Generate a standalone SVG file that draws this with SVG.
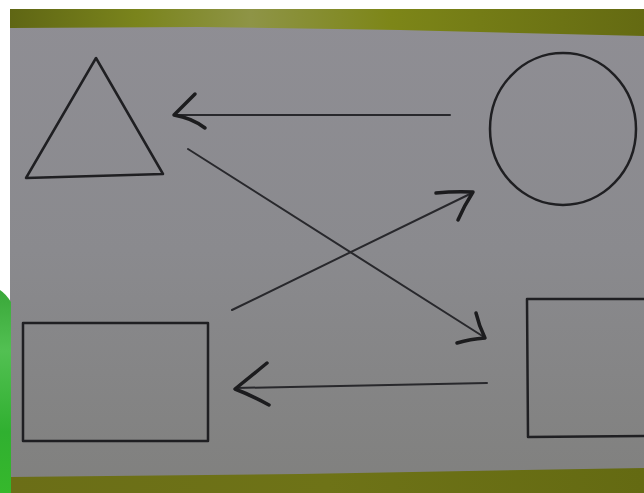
<svg xmlns="http://www.w3.org/2000/svg" width="644" height="493" viewBox="0 0 644 493">
<defs>
<linearGradient id="paper" x1="0" y1="0" x2="0" y2="1">
<stop offset="0" stop-color="#8f8e94"/>
<stop offset="0.5" stop-color="#8a8a8e"/>
<stop offset="1" stop-color="#80807e"/>
</linearGradient>
<linearGradient id="topband" x1="0" y1="0" x2="1" y2="0">
<stop offset="0" stop-color="#5f6614"/>
<stop offset="0.2" stop-color="#7a841c"/>
<stop offset="0.38" stop-color="#8e9446"/>
<stop offset="0.6" stop-color="#7d8618"/>
<stop offset="1" stop-color="#646a12"/>
</linearGradient>
<linearGradient id="botband" x1="0" y1="0" x2="1" y2="0">
<stop offset="0" stop-color="#6b6e17"/>
<stop offset="0.5" stop-color="#6e7317"/>
<stop offset="1" stop-color="#646a12"/>
</linearGradient>
<linearGradient id="green" x1="0" y1="0" x2="0" y2="1">
<stop offset="0" stop-color="#3aa83a"/>
<stop offset="0.3" stop-color="#52c052"/>
<stop offset="0.7" stop-color="#30b030"/>
<stop offset="1" stop-color="#36b82c"/>
</linearGradient>
</defs>
<style>
.shape{fill:none;stroke:#1f1f22;stroke-width:2.5;stroke-linejoin:round}
.line{fill:none;stroke:#28282c;stroke-width:2;stroke-linecap:round}
.barb{fill:none;stroke:#1c1c1e;stroke-width:3.5;stroke-linecap:round;stroke-linejoin:round}
</style>
<rect x="0" y="0" width="644" height="493" fill="#ffffff"/>
<rect x="10" y="9" width="634" height="484" fill="url(#paper)"/>
<path d="M10 9 L644 9 L644 36 L400 30 L200 27 L10 28 Z" fill="url(#topband)"/>
<path d="M10 477 L300 474 L644 468 L644 493 L10 493 Z" fill="url(#botband)"/>
<path d="M0 290 Q6 294 11 302 L11 493 L0 493 Z" fill="url(#green)"/>
<g id="triangle"><path class="shape" d="M96 58 L26 178 L163 174 Z"/></g>
<g id="circle"><ellipse class="shape" cx="563" cy="129" rx="73" ry="76" stroke-width="3"/></g>
<g id="rect-left"><rect class="shape" x="23" y="323" width="185" height="118"/></g>
<g id="rect-right"><path class="shape" d="M646 299 L527 299 L528 437 L646 436"/></g>
<g id="connectors">
<path class="line" d="M450 115 L174 115"/>
<path class="barb" d="M195 94 Q183 106 174 115 Q192 118 205 128"/>
<path class="line" d="M188 149 L484 337"/>
<path class="barb" d="M476 313 Q479 326 485 338 Q470 339 457 343"/>
<path class="line" d="M232 310 L472 193"/>
<path class="barb" d="M436 193 Q455 191 473 192 Q464 206 458 220"/>
<path class="line" d="M487 383 L236 388"/>
<path class="barb" d="M267 363 Q250 377 235 389 Q253 396 269 405"/>
</g>
</svg>
